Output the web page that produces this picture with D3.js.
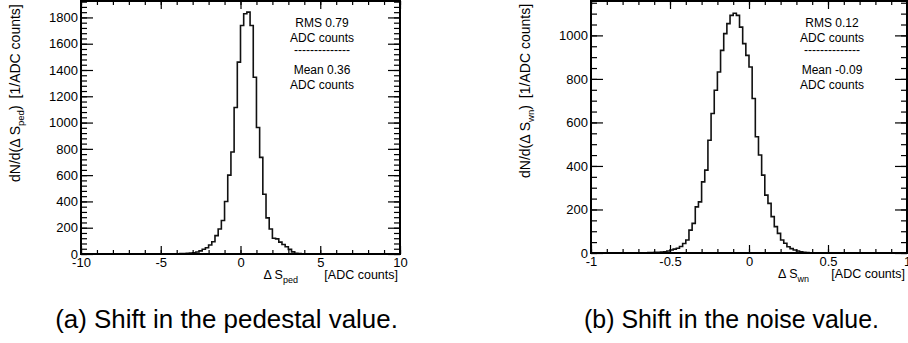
<!DOCTYPE html>
<html>
<head>
<meta charset="utf-8">
<title>Pedestal and noise shift</title>
<script src="https://cdn.jsdelivr.net/npm/d3@7"></script>
<style>
  body { margin: 0; background: #fff; }
  text { font-family: "Liberation Sans", Arial, Helvetica, sans-serif; fill: #000; }
  .tick text { font-size: 13px; }
  .ytitle { font-size: 14px; }
  .xtitle { font-size: 12.5px; }
  .stats { font-size: 12px; }
  .caption { font-family: "Liberation Sans", Arial, sans-serif; }
</style>
</head>
<body>
<svg id="chart" width="908" height="343"></svg>
<script>

// (a) shift in the pedestal value : bins of 0.2 ADC counts starting at -5
var pedStart = -5, pedBin = 0.2;
var pedCounts = [
  0, 1, 1, 1, 2, 2, 3, 4, 5, 7,
  10, 15, 24, 36, 48, 68, 93, 140, 190, 255,
  400, 600, 776, 1115, 1460, 1739, 1828, 1840, 1739, 1345,
  962, 735, 455, 275, 190, 120, 115, 90, 72, 55,
  35, 16, 6, 3, 1, 1, 0, 0, 0, 0
];
var pedXTicks = [-10, -5, 0, 5, 10];
var pedYTicks = [0, 200, 400, 600, 800, 1000, 1200, 1400, 1600, 1800];
var pedStats = ["RMS 0.79", "ADC counts", "--------------", "Mean 0.36", "ADC counts"];

// (b) shift in the noise value : bins of 0.02 ADC counts starting at -0.7
var wnStart = -0.7, wnBin = 0.02;
var wnCounts = [
  1, 1, 1, 2, 2, 3, 3, 4, 6, 9,
  14, 18, 22, 30, 44, 60, 105, 136, 212, 235,
  327, 381, 518, 641, 748, 832, 931, 1008, 1054, 1092,
  1102, 1092, 1038, 962, 908, 855, 710, 534, 450, 358,
  266, 228, 167, 121, 90, 60, 45, 29, 20, 14,
  9, 5, 3, 2, 1, 1
];
var wnXTicks = [-1, -0.5, 0, 0.5, 1];
var wnYTicks = [0, 200, 400, 600, 800, 1000];
var wnStats = ["RMS 0.12", "ADC counts", "--------------", "Mean -0.09", "ADC counts"];

var svg = d3.select("#chart");

function drawPanel(cfg) {
  var x = d3.scaleLinear().domain(cfg.xDomain).range([cfg.left, cfg.right]);
  var y = d3.scaleLinear().domain(cfg.yDomain).range([cfg.bottom, cfg.top]);
  var g = svg.append("g");

  var clipId = cfg.id + "clip";
  g.append("clipPath").attr("id", clipId)
    .append("rect")
    .attr("x", cfg.left).attr("y", cfg.top)
    .attr("width", cfg.right - cfg.left).attr("height", cfg.bottom - cfg.top);

  // histogram, drawn as steps
  var pts = cfg.counts.map(function(c, i) { return [cfg.start + i * cfg.bin, c]; });
  pts.unshift([cfg.start, 0]);
  pts.push([cfg.start + cfg.counts.length * cfg.bin, 0]);
  var line = d3.line()
    .x(function(d) { return x(d[0]); })
    .y(function(d) { return y(d[1]); })
    .curve(d3.curveStepAfter);
  g.append("path")
    .datum(pts)
    .attr("clip-path", "url(#" + clipId + ")")
    .attr("fill", "none")
    .attr("stroke", "#111")
    .attr("stroke-width", 1.6)
    .attr("d", line);

  function fmt(d) { return String(d); }
  function tidy(sel) {
    sel.select(".domain").remove();
    sel.attr("font-family", null).attr("font-size", null);
    sel.selectAll("line").attr("stroke-width", 1.2);
  }

  // minor ticks on all four sides
  g.append("g").attr("transform", "translate(0," + cfg.bottom + ")")
    .call(d3.axisBottom(x).tickValues(cfg.xMinor).tickSize(-4).tickFormat("")).call(tidy);
  g.append("g").attr("transform", "translate(0," + cfg.top + ")")
    .call(d3.axisTop(x).tickValues(cfg.xMinor).tickSize(-4).tickFormat("")).call(tidy);
  g.append("g").attr("transform", "translate(" + cfg.left + ",0)")
    .call(d3.axisLeft(y).tickValues(cfg.yMinor).tickSize(-6).tickFormat("")).call(tidy);
  g.append("g").attr("transform", "translate(" + cfg.right + ",0)")
    .call(d3.axisRight(y).tickValues(cfg.yMinor).tickSize(-6).tickFormat("")).call(tidy);

  // major ticks, labels on bottom and left only
  g.append("g").attr("transform", "translate(0," + cfg.bottom + ")")
    .call(d3.axisBottom(x).tickValues(cfg.xTicks).tickSize(-8).tickPadding(4).tickFormat(fmt)).call(tidy);
  g.append("g").attr("transform", "translate(0," + cfg.top + ")")
    .call(d3.axisTop(x).tickValues(cfg.xTicks).tickSize(-8).tickFormat("")).call(tidy);
  g.append("g").attr("transform", "translate(" + cfg.left + ",0)")
    .call(d3.axisLeft(y).tickValues(cfg.yTicks).tickSize(-12).tickPadding(3).tickFormat(fmt)).call(tidy);
  g.append("g").attr("transform", "translate(" + cfg.right + ",0)")
    .call(d3.axisRight(y).tickValues(cfg.yTicks).tickSize(-12).tickFormat("")).call(tidy);

  // frame
  g.append("rect")
    .attr("x", cfg.left).attr("y", cfg.top)
    .attr("width", cfg.right - cfg.left).attr("height", cfg.bottom - cfg.top)
    .attr("fill", "none").attr("stroke", "#000").attr("stroke-width", 2);

  // y title (rotated, starts low on the axis and runs up past the frame top)
  var yt = g.append("text").attr("class", "ytitle")
    .attr("transform", "translate(" + cfg.yTitleX + "," + cfg.yTitleStart + ") rotate(-90)")
    .attr("text-anchor", "start");
  yt.append("tspan").text("dN/d(\u0394 S");
  yt.append("tspan").attr("dy", 4).style("font-size", "9.5px").text(cfg.sub);
  yt.append("tspan").attr("dy", -4).text(")");
  yt.append("tspan").attr("dx", 7).text("[1/ADC counts]");

  // x title: unit right-aligned on the frame, symbol left of it
  g.append("text").attr("class", "xtitle")
    .attr("x", cfg.right - 2).attr("y", cfg.bottom + 25)
    .attr("text-anchor", "end")
    .text("[ADC counts]");
  var xs = g.append("text").attr("class", "xtitle")
    .attr("x", cfg.symEnd).attr("y", cfg.bottom + 25)
    .attr("text-anchor", "end");
  xs.append("tspan").text("\u0394 S");
  xs.append("tspan").attr("dy", 4).style("font-size", "9px").text(cfg.sub);

  // stats block
  var statY = [27, 42, 54, 74, 89];
  g.selectAll(".stats").data(cfg.stats).enter().append("text")
    .attr("class", "stats")
    .attr("x", cfg.statX)
    .attr("y", function(d, i) { return statY[i]; })
    .attr("text-anchor", "middle")
    .text(function(d) { return d; });

  // caption under the panel
  var cap = svg.append("text").attr("class", "caption")
    .attr("x", cfg.capX).attr("y", 328)
    .attr("text-anchor", "middle")
    .style("font-size", "20px")
    .text(cfg.caption);
  var w = cap.node().getComputedTextLength();
  cap.style("font-size", (20 * cfg.capW / w) + "px");
}

drawPanel({
  id: "ped", left: 81, right: 400, top: 1, bottom: 254,
  xDomain: [-10, 10], yDomain: [0, 1925],
  xTicks: pedXTicks, xMinor: d3.range(-10, 10.5, 1),
  yTicks: pedYTicks, yMinor: d3.range(0, 1925, 40),
  start: pedStart, bin: pedBin, counts: pedCounts,
  sub: "ped", stats: pedStats, statX: 322, yTitleX: 19.5, yTitleStart: 182, symEnd: 298,
  caption: "(a) Shift in the pedestal value.", capX: 226.5, capW: 343
});

drawPanel({
  id: "wn", left: 591, right: 907, top: 1, bottom: 253,
  xDomain: [-1, 1], yDomain: [0, 1158],
  xTicks: wnXTicks, xMinor: d3.range(-10, 11, 1).map(function(d) { return d / 10; }),
  yTicks: wnYTicks, yMinor: d3.range(0, 1158, 50),
  start: wnStart, bin: wnBin, counts: wnCounts,
  sub: "wn", stats: wnStats, statX: 832, yTitleX: 530, yTitleStart: 178, symEnd: 809,
  caption: "(b) Shift in the noise value.", capX: 731.5, capW: 295
});

</script>
</body>
</html>
